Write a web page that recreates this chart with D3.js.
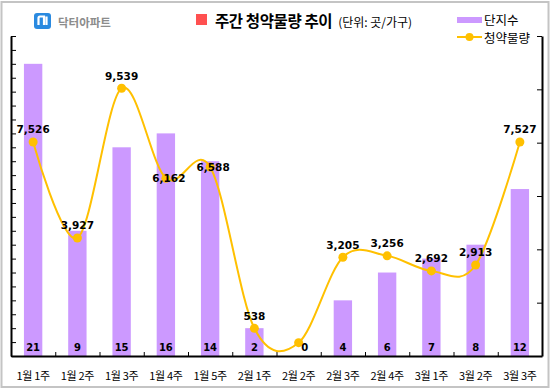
<!DOCTYPE html>
<html><head><meta charset="utf-8">
<script src="https://cdn.jsdelivr.net/npm/d3@7/dist/d3.min.js"></script>
<style>
html,body{margin:0;padding:0;background:#fff;}
svg{display:block;}
</style></head>
<body>
<svg id="chart" width="552" height="390"></svg>
<script>
const categories = ["1월 1주","1월 2주","1월 3주","1월 4주","1월 5주","2월 1주","2월 2주","2월 3주","2월 4주","3월 1주","3월 2주","3월 3주"];
const complexCounts = [21, 9, 15, 16, 14, 2, 0, 4, 6, 7, 8, 12];
const subscriptionVolume = [7526, 3927, 9539, 6162, 6588, 538, 0, 3205, 3256, 2692, 2913, 7527];
const volumeLabelPlacement = ["above","above","above","center","center","above","none","above","above","above","above","above"];
const leftTicks = d3.range(0, 24);
const rightTicks = [-500, 1500, 3500, 5500, 7500, 9500, 11500];
const seriesNames = ["단지수", "청약물량"];

const svg = d3.select("#chart");
const KR = "'Noto Sans CJK KR','Noto Sans',sans-serif";
const NUM = "'DejaVu Sans',sans-serif";

// outer border
svg.append("rect").attr("x",1.5).attr("y",2).attr("width",547).attr("height",385)
  .attr("fill","#fff").attr("stroke","#c4c4c4").attr("stroke-width",2);

const L = 11, R = 542, T = 36, B = 356;
const x = d3.scaleBand().domain(categories).range([L, R]).paddingInner(0.585).paddingOuter(0.2925);
const yL = d3.scaleLinear().domain([0, 23]).range([B, T]);
const yR = d3.scaleLinear().domain([-500, 11500]).range([B, T]);
const cx = c => x(c) + x.bandwidth()/2;

// bars
svg.append("g").selectAll("rect").data(categories).join("rect")
  .attr("x", c => x(c)).attr("width", x.bandwidth())
  .attr("y", (c,i) => yL(complexCounts[i]))
  .attr("height", (c,i) => yL(0) - yL(complexCounts[i]))
  .attr("fill", "#cc99ff");

// axes
const axL = svg.append("g").attr("transform", `translate(${L},0)`)
  .call(d3.axisRight(yL).tickValues(leftTicks).tickSize(5).tickSizeOuter(0).tickFormat(""));
const axR = svg.append("g").attr("transform", `translate(${R},0)`)
  .call(d3.axisLeft(yR).tickValues(rightTicks).tickSize(5).tickSizeOuter(0).tickFormat(""));
const bx = d3.scaleLinear().domain([0, categories.length]).range([L, R]);
const axB = svg.append("g").attr("transform", `translate(0,${B})`)
  .call(d3.axisTop(bx).tickValues(d3.range(1, categories.length)).tickSize(4).tickSizeOuter(0).tickFormat(""));
[axL, axR, axB].forEach(a => {
  a.selectAll("path.domain").attr("stroke","#000").attr("stroke-width",2);
  a.selectAll(".tick line").attr("stroke","#000").attr("stroke-width",1);
});

// category labels
svg.append("g").selectAll("text").data(categories).join("text")
  .attr("x", c => cx(c)).attr("y", 379.5)
  .attr("text-anchor","middle").attr("font-family",KR).attr("font-size",11)
  .attr("letter-spacing","-0.3").attr("fill","#000").text(c => c);

// line
const line = d3.line().x((v,i) => cx(categories[i])).y(v => yR(v)).curve(d3.curveCardinal.tension(0));
svg.append("path").datum(subscriptionVolume).attr("d", line)
  .attr("fill","none").attr("stroke","#ffc000").attr("stroke-width",2);
svg.append("g").selectAll("circle").data(subscriptionVolume).join("circle")
  .attr("cx",(v,i) => cx(categories[i])).attr("cy", v => yR(v)).attr("r",4.5)
  .attr("fill","#ffc000");

// bar value labels
svg.append("g").selectAll("text").data(complexCounts).join("text")
  .attr("x",(v,i) => cx(categories[i]) + (v === 0 ? 6 : 0)).attr("y", B - 5)
  .attr("text-anchor","middle").attr("font-family",NUM).attr("font-weight","bold")
  .attr("font-size",10).attr("fill","#000").text(v => v);

// line value labels
const fmt = d3.format(",");
svg.append("g").selectAll("text")
  .data(subscriptionVolume.map((v,i)=>({v,i,p:volumeLabelPlacement[i]})).filter(d => d.p !== "none")).join("text")
  .attr("x", d => cx(categories[d.i]) + (d.p === "center" ? 3 : 0))
  .attr("y", d => yR(d.v) + (d.p === "center" ? 4 : -8.5))
  .attr("text-anchor","middle").attr("font-family",NUM).attr("font-weight","bold")
  .attr("font-size",10.5).attr("fill","#000").text(d => fmt(d.v));

// header: logo
svg.append("rect").attr("x",34).attr("y",13).attr("width",17).attr("height",16).attr("rx",3).attr("fill","#2a8ae0");
svg.append("path").attr("d","M38.5,25 L38.5,18 Q38.5,16.5 40,16.5 L44,16.5 L44,25 M46.5,16.5 L46.5,25")
  .attr("fill","none").attr("stroke","#fff").attr("stroke-width",2.2);
svg.append("text").attr("x",58).attr("y",27).attr("font-family",KR).attr("font-weight","bold")
  .attr("font-size",11.5).attr("fill","#8c8c8c").text("닥터아파트");

// title
svg.append("rect").attr("x",196).attr("y",14).attr("width",11).attr("height",11).attr("fill","#ff5050");
const title = svg.append("text").attr("x",215).attr("y",27).attr("font-family",KR).attr("fill","#000");
title.append("tspan").attr("font-weight","bold").attr("font-size",15.5).attr("letter-spacing","-0.4").text("주간 청약물량 추이");
title.append("tspan").attr("dx",6).attr("font-size",12).text("(단위: 곳/가구)");

// legend
svg.append("rect").attr("x",457).attr("y",17).attr("width",25).attr("height",6).attr("fill","#cc99ff");
svg.append("text").attr("x",484).attr("y",25).attr("font-family",KR).attr("font-size",12.5).attr("fill","#000").text(seriesNames[0]);
svg.append("line").attr("x1",457).attr("x2",482).attr("y1",37).attr("y2",37).attr("stroke","#ffc000").attr("stroke-width",2);
svg.append("circle").attr("cx",469.5).attr("cy",37).attr("r",4).attr("fill","#ffc000");
svg.append("text").attr("x",484).attr("y",43).attr("font-family",KR).attr("font-size",12.5).attr("fill","#000").text(seriesNames[1]);
</script>
</body></html>
